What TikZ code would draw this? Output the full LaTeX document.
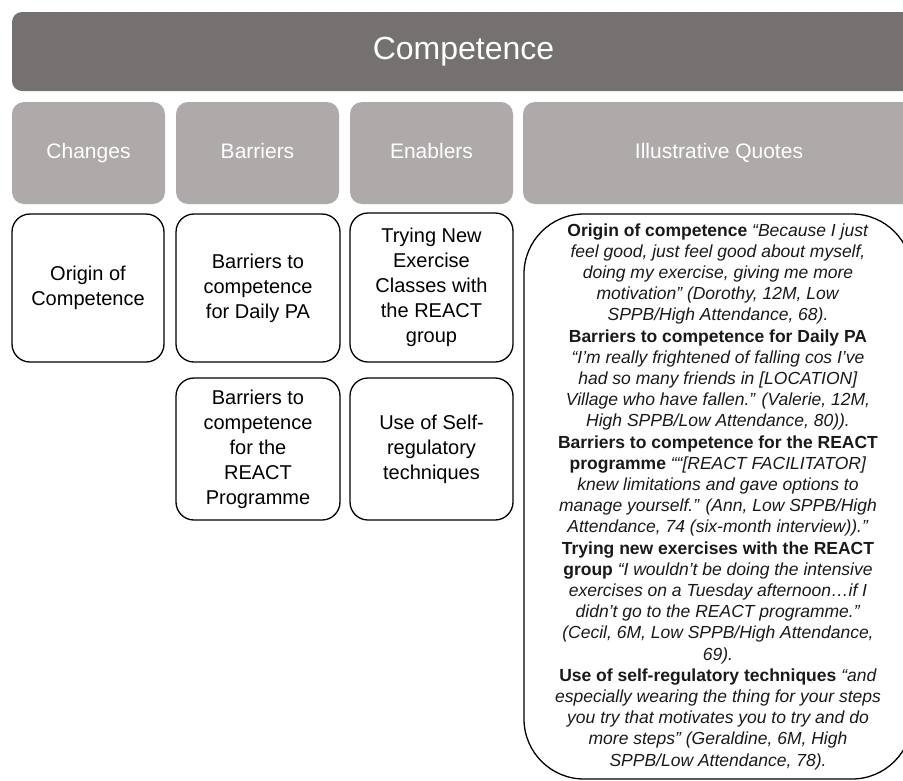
\documentclass[tikz,border=0pt]{standalone}
\usepackage{fontspec}
\setmainfont{Liberation Sans}
\definecolor{barGray}{HTML}{767171}
\definecolor{headGray}{HTML}{AEAAAA}

\begin{document}
\begin{tikzpicture}
[x=1pt,y=-1pt,%
  barDecorate/.style={fill=barGray,rounded corners=10pt,text=white,inner sep=0pt,%
    font=\fontsize{32}{38}\selectfont},%
  headDecorate/.style={fill=headGray,rounded corners=12pt,text=white,inner sep=0pt,%
    text height=15pt,text depth=4.5pt,minimum height=102pt,font=\fontsize{21}{25}\selectfont},%
  boxDecorate/.style={draw,line width=1.3pt,rounded corners=18pt,align=center,inner sep=0pt,%
    font=\fontsize{20}{25}\selectfont},%
  quoteDecorate/.style={draw,line width=1.3pt,rounded corners=60pt,align=center,inner sep=0pt,%
    minimum width=388pt,minimum height=565pt,text=black!90,font=\fontsize{17.5}{21.2}\selectfont}]
\useasboundingbox (0,0) rectangle (903,780);
\clip (0,0) rectangle (903,780);
%% title bar
\node (competence) at (463.5,51.5) [barDecorate,minimum width=903pt,minimum height=79pt] {Competence};
%% column heads
\foreach \nodename/\x/\w/\txt in {changes/88.5/153/Changes, barriers/257.5/163/Barriers,
  enablers/431.5/163/Enablers, quotes/719/392/Illustrative Quotes}
{
  \node (\nodename) at (\x,153) [headDecorate,minimum width=\w pt] {\txt};
}
%% boxes
\foreach \nodename/\x/\y/\w/\h/\txt in {
  origin/88/288/152/148/{Origin of\\Competence},
  dailypa/258/288/164/148/{Barriers to\\competence\\for Daily PA},
  trying/431.5/287.5/163/149/{Trying New\\Exercise\\Classes with\\the REACT\\group},
  programme/258/449/164/142/{Barriers to\\competence\\for the\\REACT\\Programme},
  selfreg/431.5/449/163/142/{Use of Self-\\regulatory\\techniques}}
{
  \node (\nodename) at (\x,\y) [boxDecorate,minimum width=\w pt,minimum height=\h pt] {\txt};
}
%% quotes
\node (quotetext) at (718,496.5) [quoteDecorate] {%
  \textbf{Origin of competence} \textit{“Because I just}\\
  \textit{feel good, just feel good about myself,}\\
  \textit{doing my exercise, giving me more}\\
  \textit{motivation” (Dorothy, 12M, Low}\\
  \textit{SPPB/High Attendance, 68).}\\
  \textbf{Barriers to competence for Daily PA}\\
  \textit{“I’m really frightened of falling cos I’ve}\\
  \textit{had so many friends in [LOCATION]}\\
  \textit{Village who have fallen.” (Valerie, 12M,}\\
  \textit{High SPPB/Low Attendance, 80)).}\\
  \textbf{Barriers to competence for the REACT}\\
  \textbf{programme} \textit{““[REACT FACILITATOR]}\\
  \textit{knew limitations and gave options to}\\
  \textit{manage yourself.” (Ann, Low SPPB/High}\\
  \textit{Attendance, 74 (six-month interview)).”}\\
  \textbf{Trying new exercises with the REACT}\\
  \textbf{group} \textit{“I wouldn’t be doing the intensive}\\
  \textit{exercises on a Tuesday afternoon…if I}\\
  \textit{didn’t go to the REACT programme.”}\\
  \textit{(Cecil, 6M, Low SPPB/High Attendance,}\\
  \textit{69).}\\
  \textbf{Use of self-regulatory techniques} \textit{“and}\\
  \textit{especially wearing the thing for your steps}\\
  \textit{you try that motivates you to try and do}\\
  \textit{more steps” (Geraldine, 6M, High}\\
  \textit{SPPB/Low Attendance, 78).}};
\end{tikzpicture}
\end{document}
